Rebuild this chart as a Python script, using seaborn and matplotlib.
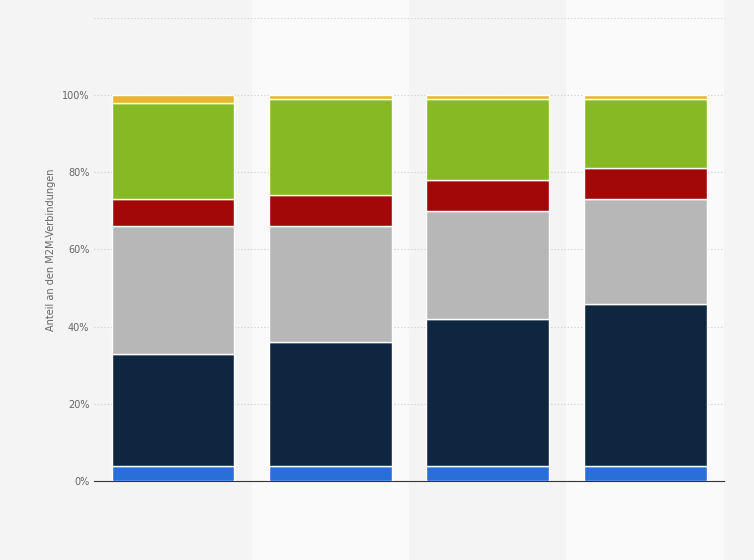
import numpy as np
import pandas as pd
import seaborn as sns
import matplotlib.pyplot as plt
from matplotlib.patches import Rectangle

bars = ["A", "B", "C", "D"]
blue = [4, 4, 4, 4]
navy = [29, 32, 38, 42]
gray = [33, 30, 28, 27]
red = [7, 8, 8, 8]
green = [25, 25, 21, 18]
yellow = [2, 1, 1, 1]

series = [blue, navy, gray, red, green, yellow]
colors = ["#2a6ed8", "#0e263f", "#b7b7b7", "#a30808", "#86b923", "#e8b730"]

sns.set_style("white")
plt.rcParams['font.family'] = ['DejaVu Sans']
fig, ax = plt.subplots(figsize=(7.54, 5.60), dpi=100)
fig.patch.set_facecolor("#f4f4f4")
ax.set_facecolor("#f4f4f4")
fig.subplots_adjust(left=0.125, right=0.96, top=0.968, bottom=0.141)

for i in (1, 3):
    ax.add_patch(Rectangle((i - 0.5, -0.5), 1, 1.7, transform=ax.get_xaxis_transform(),
                           facecolor="#fafafa", edgecolor="none", clip_on=False, zorder=0))

bottom = np.zeros(len(bars))
for vals, c in zip(series, colors):
    df = pd.DataFrame({"bar": bars, "v": vals})
    sns.barplot(data=df, x="bar", y="v", bottom=bottom, color=c, width=0.78,
                edgecolor="white", linewidth=1, ax=ax, zorder=3, saturation=1)
    bottom += np.array(vals)

ax.set_ylim(0, 120)
ax.set_xlim(-0.5, 3.5)
ax.set_yticks(range(0, 121, 20))
ax.set_yticklabels([f"{t}%" for t in range(0, 101, 20)] + [""], fontsize=7, color="#666666")
ax.set_xticks([])
ax.set_xlabel("")
ax.set_ylabel("Anteil an den M2M-Verbindungen", fontsize=7, color="#666666")
ax.yaxis.grid(True, linestyle=(0, (1, 2)), color="#cccccc", linewidth=0.8, zorder=1)
ax.set_axisbelow(True)
for s in ["top", "right", "left"]:
    ax.spines[s].set_visible(False)
ax.spines["bottom"].set_color("#333333")
ax.tick_params(axis="y", length=0)

plt.savefig("out.png", facecolor=fig.get_facecolor())
